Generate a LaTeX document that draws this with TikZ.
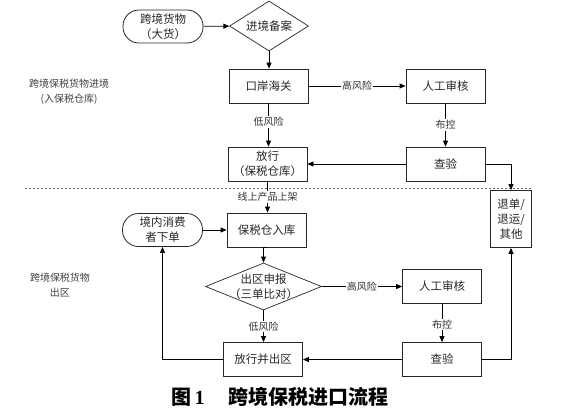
\documentclass[tikz,border=0pt]{standalone}
\usepackage{fontspec}
\setmainfont{Liberation Serif}
\newfontfamily\cjk{Noto Sans CJK SC}
\usetikzlibrary{arrows.meta,shapes.geometric}
\begin{document}
\begin{tikzpicture}[x=1pt,y=-1pt,
  box/.style={draw=black!85, line width=0.8pt, minimum width=79pt, minimum height=34pt, inner sep=0pt, font=\cjk\fontsize{11.5}{15}\selectfont, align=center, text=black!85},
  pill/.style={box, minimum width=80pt, minimum height=33pt, rounded corners=16pt},
  dia/.style={draw=black!85, line width=0.7pt, diamond, inner sep=0pt},
  diatext/.style={font=\cjk\fontsize{11.5}{15}\selectfont, align=center, text=black!85},
  arr/.style={draw=black, line width=0.8pt, -{Triangle[length=6pt,width=5pt]}},
  lab/.style={font=\cjk\fontsize{10}{11}\selectfont, fill=white, inner sep=1pt, text=black!80},
  side/.style={font=\cjk\fontsize{10}{15}\selectfont, align=center, text=black!75}
]
\useasboundingbox (0,0) rectangle (562,415);

% upper part
\node[pill] (goods) at (163,26.5) {跨境货物\\（大货）};
\node[dia, minimum width=79pt, minimum height=50pt] (rec) at (269,26) {};
\node[diatext] (rect) at (rec.center) {进境备案};
\node[box] (port) at (268.5,86) {口岸海关};
\node[box] (rev1) at (445.5,86) {人工审核};
\node[box] (chk1) at (445.5,164) {查验};
\node[box] (rel1) at (267.5,164) {放行\\（保税仓库）};
\node[box, minimum width=41pt, minimum height=57pt] (ret) at (511,219) {退单/\\退运/\\其他};

% lower part
\node[pill] (cons) at (162.5,230) {境内消费\\者下单};
\node[box] (wh) at (266.5,230) {保税仓入库};
\node[dia, minimum width=116pt, minimum height=47pt] (decl) at (263.5,286.5) {};
\node[diatext] (declt) at (decl.center) {出区申报\\（三单比对）};
\node[box] (rev2) at (442,286) {人工审核};
\node[box] (chk2) at (442,359.5) {查验};
\node[box] (rel2) at (263,359.5) {放行并出区};

% side labels
\node[side] (s1) at (69,92) {跨境保税货物进境\\(入保税仓库)};
\node[side] (s2) at (60,285.5) {跨境保税货物\\出区};

% separator
\draw[black!60, line width=0.5pt, dash pattern=on 2pt off 2pt] (25,188) -- (532,188);

% connectors upper
\draw[arr] (goods) -- (rec);
\draw[arr] (rec.south) -- (rec.south |- port.north);
\draw[arr] (port) -- node[lab] {高风险} (rev1);
\draw[arr] (port.south) -- node[lab, pos=0.43] {低风险} (port.south |- rel1.north);
\draw[arr] (rev1) -- node[lab] {布控} (chk1);
\draw[arr] (chk1) -- (rel1);
\draw[arr] (chk1.east) -| (ret.north);
\draw[arr] (rel1.south) -- node[lab, pos=0.5] {线上产品上架} (rel1.south |- wh.north);

% connectors lower
\draw[arr] (cons) -- (wh);
\draw[arr] (wh.south) -- (wh.south -| decl.north) -- (decl.north);
\draw[arr] (decl.east) -- node[lab] {高风险} (decl.east -| rev2.west);
\draw[arr] (decl.south) -- node[lab] {低风险} (decl.south |- rel2.north);
\draw[arr] (rev2) -- node[lab, pos=0.55] {布控} (chk2);
\draw[arr] (chk2) -- (rel2);
\draw[arr] (chk2.east) -| (ret.south);
\draw[arr] (rel2.west) -| (cons.south);

% caption
\node (cap) at (280,396.5) {\cjk\bfseries\fontsize{20}{21}\selectfont 图\,{\rmfamily\bfseries 1}\hspace{1.2em}跨境保税进口流程};
\end{tikzpicture}
\end{document}
